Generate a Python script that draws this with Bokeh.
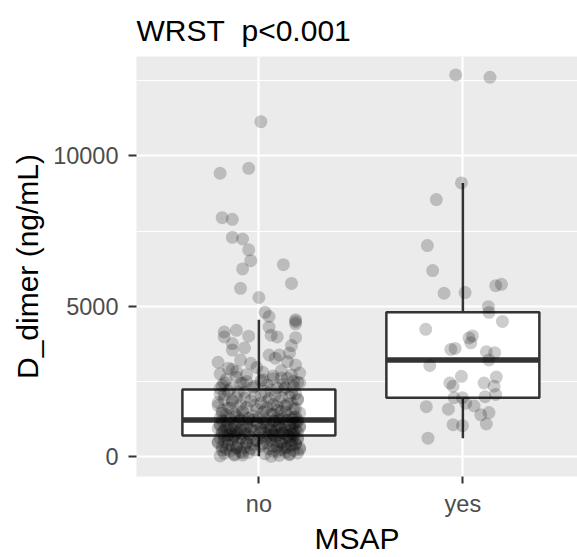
from bokeh.plotting import figure
from bokeh.models import Range1d, FixedTicker
from bokeh.embed import file_html
from bokeh.resources import INLINE

# ---------------- data ----------------
categories = ["no", "yes"]
title_text = "WRST\u00a0\u00a0p<0.001"

# box statistics per category
box_lower = [21, 622]
box_q1 = [711, 1965]
box_median = [1225, 3222]
box_q3 = [2240, 4804]
box_upper = [4560, 9100]

# jittered observations, group "no"
no_values = [
    11135, 9586, 9422, 7948, 7893, 7293, 7238, 6878, 6517, 6245,
    6386, 5764, 5600, 5296, 4804, 4664, 4560, 4500, 4421, 4313,
    4205, 4149, 4041, 3986, 3986, 4010, 3960, 3766, 3700, 3550,
    3386, 3386, 3222, 3167, 3144, 2947, 2970, 2839, 2784, 2731,
    2620, 2512, 2456, 2456, 2456, 2560, 2350, 2300, 2280, 2600,
    2265, 2290, 2310, 2335, 2370, 2395, 2420, 2440, 2480, 2505,
    2530, 2575, 2610, 2650, 2690, 2720, 2760, 2810, 2870, 2910,
    3050, 3110, 3280, 3450, 3620,
    2231, 2195, 2170, 2148, 2102, 2089, 2061, 2015, 1998, 1972,
    1940, 1911, 1893, 1862, 1847, 1815, 1790, 1776, 1742, 1731,
    1705, 1688, 1652, 1641, 1618, 1597, 1583, 1552, 1538, 1516,
    1497, 1471, 1463, 1438, 1415, 1402, 1388, 1361, 1347, 1330,
    1312, 1298, 1287, 1275, 1266, 1254, 1246, 1238, 1232, 1227,
    2220, 2160, 2130, 2070, 2035, 1985, 1955, 1925, 1875, 1830,
    1805, 1760, 1715, 1670, 1630, 1605, 1565, 1528, 1485, 1450,
    1425, 1370, 1320, 1280, 1243,
    1219, 1215, 1205, 1190, 1178, 1163, 1150, 1138, 1121, 1110,
    1100, 1097, 1083, 1072, 1058, 1046, 1031, 1020, 1008, 995,
    983, 970, 961, 948, 940, 936, 925, 912, 901, 889,
    876, 868, 860, 855, 843, 831, 822, 810, 798, 789,
    777, 768, 759, 750, 742, 735, 728, 722, 716, 713,
    1210, 1185, 1157, 1130, 1115, 1090, 1065, 1040, 1014, 990,
    977, 955, 930, 918, 895, 882, 850, 837, 815, 803,
    782, 763, 746, 731, 719,
    705, 690, 676, 661, 648, 632, 617, 603, 590, 574,
    561, 548, 533, 519, 505, 492, 478, 463, 450, 437,
    421, 408, 394, 381, 367, 352, 340, 325, 311, 298,
    284, 270, 257, 243, 229, 216, 201, 188, 174, 160,
    147, 133, 119, 104, 90, 76, 62, 48, 35, 21,
    698, 683, 668, 640, 625, 596, 581, 555, 540, 512,
    485, 470, 444, 415, 387, 360, 332, 304, 277, 250,
    222, 181, 140, 97, 55,
]
no_jitter = [
    0.01, -0.05, -0.19, -0.18, -0.13, -0.13, -0.08, -0.05, -0.04, -0.08,
    0.12, 0.16, -0.09, 0.00, 0.03, 0.05, 0.18, 0.18, 0.18, 0.05,
    -0.11, -0.17, 0.06, -0.17, 0.09, -0.05, 0.18, -0.13, 0.16, -0.13,
    0.05, 0.10, -0.09, 0.14, -0.20, -0.15, -0.01, -0.11, 0.20, -0.06,
    0.11, 0.17, -0.17, -0.08, 0.20, 0.02, -0.02, 0.13, -0.19, 0.07,
    -0.14, 0.09, -0.03, 0.17, -0.18, 0.04, 0.12, -0.09, 0.19, -0.06,
    0.01, -0.16, 0.14, -0.11, 0.07, 0.16, -0.19, 0.02, 0.11, -0.13,
    0.18, -0.04, 0.08, 0.15, -0.07,
    0.12, -0.15, 0.03, -0.07, 0.18, -0.19, 0.08, -0.02, 0.15, -0.11,
    0.05, -0.17, 0.19, -0.04, 0.10, -0.13, 0.01, 0.16, -0.09, 0.07,
    -0.20, 0.13, -0.06, 0.04, -0.14, 0.17, -0.01, 0.09, -0.18, 0.11,
    -0.08, 0.02, 0.20, -0.12, 0.06, -0.16, 0.14, -0.03, 0.18, -0.10,
    0.00, -0.19, 0.12, -0.05, 0.08, 0.16, -0.14, 0.03, -0.09, 0.19,
    0.06, -0.10, 0.16, -0.17, 0.01, 0.11, -0.07, 0.19, -0.13, 0.04,
    -0.20, 0.14, -0.02, 0.09, -0.15, 0.18, -0.08, 0.03, 0.13, -0.18,
    0.07, -0.11, 0.17, -0.05, 0.10,
    -0.03, 0.14, -0.18, 0.07, -0.10, 0.19, -0.06, 0.02, 0.17, -0.15,
    0.10, -0.01, -0.19, 0.05, 0.13, -0.08, 0.20, -0.12, 0.04, -0.16,
    0.09, -0.04, 0.16, -0.20, 0.11, 0.01, -0.13, 0.18, -0.07, 0.06,
    -0.17, 0.15, -0.02, 0.08, -0.11, 0.19, -0.14, 0.03, 0.12, -0.09,
    -0.18, 0.07, 0.17, -0.05, 0.00, -0.15, 0.10, 0.14, -0.12, 0.05,
    -0.16, 0.08, -0.01, 0.18, -0.12, 0.03, 0.15, -0.19, 0.10, -0.06,
    0.20, -0.14, 0.05, -0.09, 0.13, -0.03, 0.17, -0.18, 0.01, 0.11,
    -0.11, 0.16, -0.07, 0.07, -0.15,
    0.08, -0.12, 0.17, -0.04, 0.02, -0.19, 0.13, -0.08, 0.19, -0.15,
    0.06, -0.01, 0.15, -0.17, 0.10, -0.06, 0.04, -0.20, 0.18, -0.10,
    0.12, -0.03, 0.16, -0.13, 0.01, 0.09, -0.18, 0.14, -0.07, 0.20,
    -0.11, 0.05, -0.16, 0.11, -0.02, 0.17, -0.14, 0.07, -0.09, 0.13,
    -0.05, 0.19, -0.17, 0.03, -0.12, 0.15, -0.08, 0.10, -0.19, 0.06,
    0.14, -0.17, 0.04, -0.09, 0.19, -0.13, 0.08, -0.02, 0.16, -0.20,
    0.11, -0.06, 0.02, 0.18, -0.15, 0.07, -0.11, 0.13, -0.04, 0.20,
    -0.18, 0.09, -0.08, 0.15, -0.12,
]

# jittered observations, group "yes"
yes_values = [
    12687, 12610, 9100, 8548, 7021, 6190, 5437, 5459, 5689, 5733,
    4991, 4804, 4500, 4238, 3953, 4018, 3789, 3570, 3603, 3494,
    3462, 3222, 3036, 2676, 2653, 2456, 2348, 2456, 2348, 2076,
    1998, 1965, 1965, 1782, 1692, 1670, 1585, 1474, 1398, 1071,
    1038, 1094, 622,
]
yes_jitter = [
    -0.035, 0.133, -0.007, -0.130, -0.174, -0.148, -0.092, 0.011, 0.161, 0.189,
    0.125, 0.128, 0.194, -0.182, 0.030, 0.047, 0.039, -0.059, -0.038, 0.115,
    0.156, 0.128, -0.162, -0.007, 0.164, -0.064, -0.048, 0.104, 0.153, 0.161,
    0.109, -0.043, -0.002, 0.014, 0.055, -0.179, -0.071, 0.128, 0.088, -0.048,
    -0.002, 0.115, -0.171,
]

y_ticks = [0, 5000, 10000]
y_minor_ticks = [2500, 7500, 12500]

# ---------------- figure ----------------
FONT = "Liberation Sans"
BOX_W = 0.75
pos = [i + 1 for i in range(len(categories))]

p = figure(
    width=577, height=557,
    x_range=Range1d(0.4, 2.562), y_range=Range1d(-650, 13300),
    output_backend="svg", toolbar_location=None,
    min_border_left=136, min_border_right=0, min_border_top=56, min_border_bottom=75,
    title=title_text,
)
p.background_fill_color = "#EBEBEB"
p.border_fill_color = "white"
p.outline_line_color = None

p.title.text_font = FONT
p.title.text_font_size = "30px"
p.title.text_font_style = "normal"
p.title.text_color = "black"
p.title.align = "left"
p.title.offset = 0
p.title.vertical_align = "middle"
p.title.standoff = 17

# grids
p.xgrid.ticker = FixedTicker(ticks=pos)
p.xgrid.grid_line_color = "white"
p.xgrid.grid_line_width = 2.2
p.ygrid.ticker = FixedTicker(ticks=y_ticks, minor_ticks=y_minor_ticks)
p.ygrid.grid_line_color = "white"
p.ygrid.grid_line_width = 2.2
p.ygrid.minor_grid_line_color = "white"
p.ygrid.minor_grid_line_width = 1.1

# axes
for ax in (p.xaxis, p.yaxis):
    ax.axis_line_color = None
    ax.major_tick_line_color = "#333333"
    ax.major_tick_line_width = 2
    ax.major_tick_in = 0
    ax.minor_tick_line_color = None
    ax.major_label_text_font = FONT
    ax.major_label_text_font_size = "23.5px"
    ax.major_label_text_color = "#4D4D4D"
    ax.axis_label_text_font = FONT
    ax.axis_label_text_font_size = "30px"
    ax.axis_label_text_font_style = "normal"
    ax.axis_label_text_color = "black"

p.xaxis.ticker = FixedTicker(ticks=pos)
p.xaxis.major_label_overrides = {x: c for x, c in zip(pos, categories)}
p.xaxis.major_tick_out = 7
p.xaxis.major_label_standoff = 7
p.xaxis.axis_label = "MSAP"
p.xaxis.axis_label_standoff = 2

p.yaxis.ticker = FixedTicker(ticks=y_ticks, minor_ticks=y_minor_ticks)
p.yaxis.major_tick_out = 8
p.yaxis.major_label_standoff = 10
p.yaxis.axis_label = "D_dimer (ng/mL)"
p.yaxis.axis_label_standoff = 6

# boxplots
line_col = "#333333"
p.segment(x0=pos, x1=pos, y0=box_q3, y1=box_upper, line_color=line_col, line_width=2.5)
p.segment(x0=pos, x1=pos, y0=box_lower, y1=box_q1, line_color=line_col, line_width=2.5)
p.vbar(x=pos, width=BOX_W, bottom=box_q1, top=box_q3,
       fill_color="white", line_color=line_col, line_width=2.5)
p.segment(x0=[x - BOX_W / 2 for x in pos], x1=[x + BOX_W / 2 for x in pos],
          y0=box_median, y1=box_median, line_color=line_col, line_width=5.5)

# jittered points
p.scatter(x=[pos[0] + j for j in no_jitter], y=no_values, size=13,
          fill_color="black", fill_alpha=0.2, line_color=None)
p.scatter(x=[pos[1] + j for j in yes_jitter], y=yes_values, size=13,
          fill_color="black", fill_alpha=0.2, line_color=None)

open("out.html", "w").write(file_html(p, INLINE))
